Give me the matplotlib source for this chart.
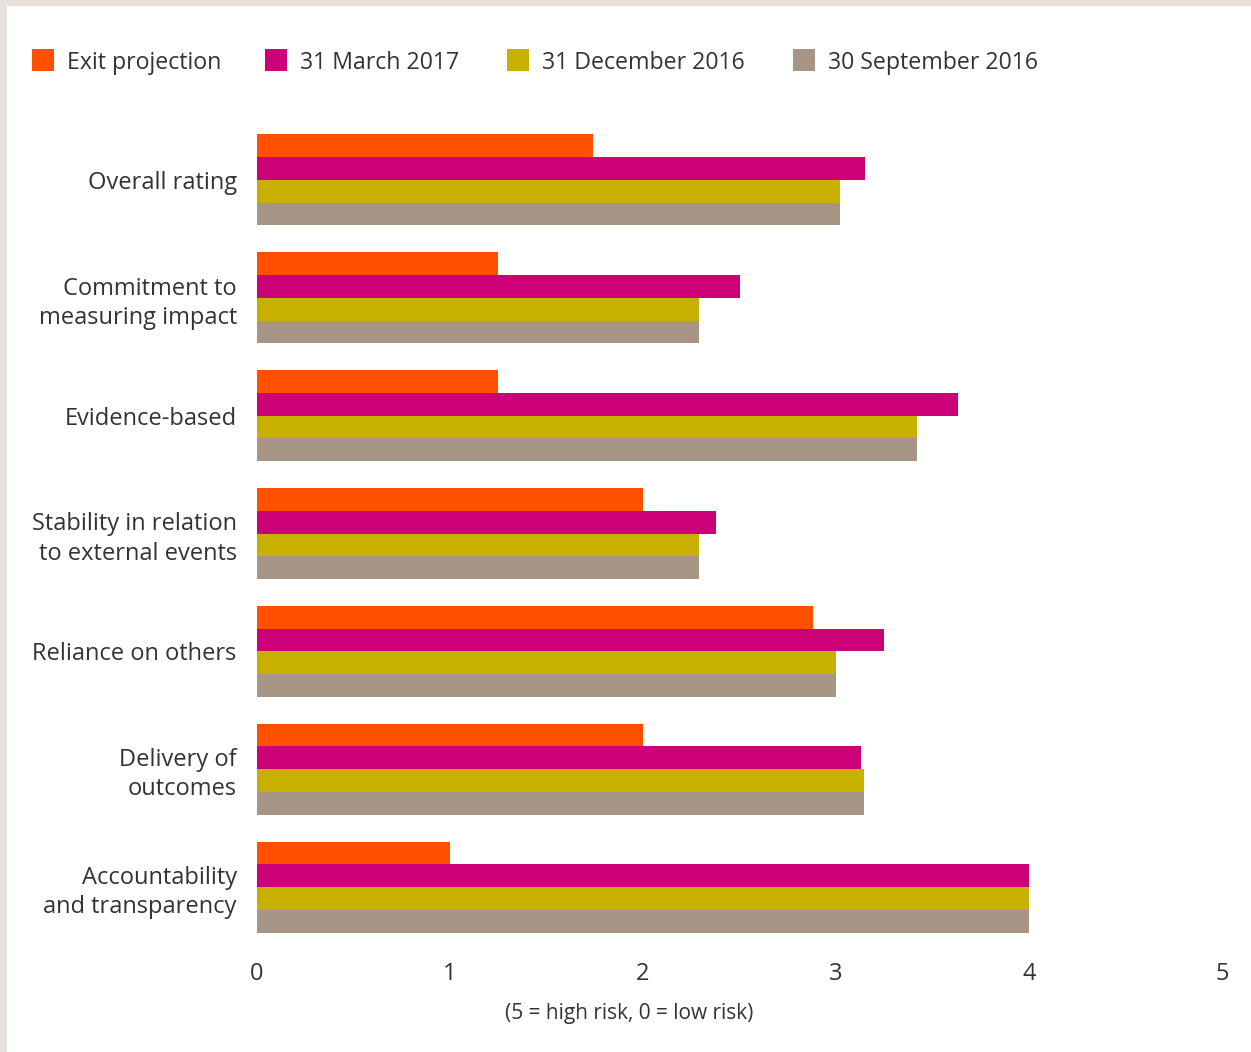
import matplotlib
matplotlib.use("Agg")
import matplotlib.pyplot as plt
from matplotlib.patches import Rectangle

plt.rcParams['font.family'] = ['Open Sans', 'DejaVu Sans']

categories = [
    "Overall rating",
    "Commitment to\nmeasuring impact",
    "Evidence-based",
    "Stability in relation\nto external events",
    "Reliance on others",
    "Delivery of\noutcomes",
    "Accountability\nand transparency",
]
series_names = ["Exit projection", "31 March 2017", "31 December 2016", "30 September 2016"]
exit_projection = [1.74, 1.25, 1.25, 2.0, 2.88, 2.0, 1.0]
march_2017 = [3.15, 2.5, 3.63, 2.38, 3.25, 3.13, 4.0]
december_2016 = [3.02, 2.29, 3.42, 2.29, 3.0, 3.145, 4.0]
september_2016 = [3.02, 2.29, 3.42, 2.29, 3.0, 3.145, 4.0]
colors = ["#ff5000", "#cc0077", "#c8b000", "#a69484"]
x_ticks = [0, 1, 2, 3, 4, 5]
x_note = "(5 = high risk, 0 = low risk)"

TEXT = "#333333"
W, H = 1251, 1052
fig = plt.figure(figsize=(W / 100, H / 100), dpi=100)

# light frame along top and left edges
fig.patches.append(Rectangle((0, 0), 1, 1, transform=fig.transFigure,
                             facecolor="#e6e1dd", edgecolor="none", zorder=-10))
fig.patches.append(Rectangle((7 / W, 0), 1, 1 - 6 / H, transform=fig.transFigure,
                             facecolor="white", edgecolor="none", zorder=-9))

ax = fig.add_axes([257 / W, 1 - 946 / H, (1222 - 257) / W, (946 - 121) / H])
ax.set_facecolor("none")

all_series = [exit_projection, march_2017, december_2016, september_2016]
h = 0.193
offsets = [-1.5 * h, -0.5 * h, 0.5 * h, 1.5 * h]
for vals, off, c in zip(all_series, offsets, colors):
    ax.barh([i + off for i in range(len(categories))], vals, height=h,
            color=c, edgecolor="none")

ax.set_xlim(0, 5)
ax.set_ylim(len(categories) - 0.5, -0.5)
ax.set_xticks(x_ticks)
ax.set_xticklabels([str(t) for t in x_ticks])
ax.set_yticks(range(len(categories)))
ax.set_yticklabels(categories, linespacing=1.28)
ax.tick_params(axis="both", length=0, labelsize=17, colors=TEXT)
ax.tick_params(axis="y", pad=14.5)
ax.tick_params(axis="x", pad=11.5)
for sp in ax.spines.values():
    sp.set_visible(False)

fig.text(629 / W, 1 - 1014 / H, x_note, ha="center", va="center",
         fontsize=15, color=TEXT)

# legend row
leg_x = [32, 265, 507, 793]
for name, c, lx in zip(series_names, colors, leg_x):
    fig.patches.append(Rectangle((lx / W, 1 - 71 / H), 22 / W, 22 / H,
                                 transform=fig.transFigure, facecolor=c,
                                 edgecolor="none"))
    fig.text((lx + 35) / W, 1 - 63 / H, name, ha="left", va="center",
             fontsize=16.7, color=TEXT)

fig.savefig("out.png", dpi=100)
